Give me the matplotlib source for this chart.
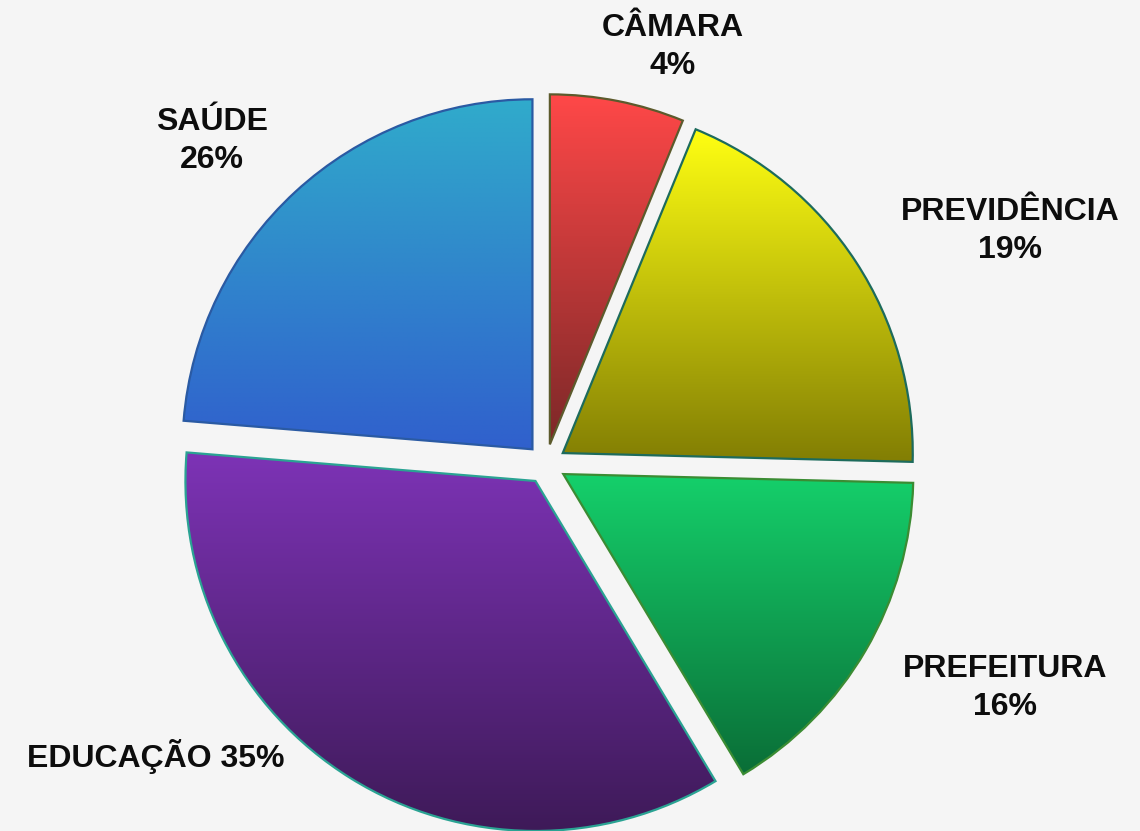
import matplotlib
matplotlib.use("Agg")
import matplotlib.pyplot as plt
import matplotlib.colors as mcolors
import numpy as np

categories = ["CÂMARA", "PREVIDÊNCIA", "PREFEITURA", "EDUCAÇÃO", "SAÚDE"]
values = [6.2, 19.2, 16.0, 34.9, 23.7]
pct_labels = ["4%", "19%", "16%", "35%", "26%"]

top_colors = ["#ff4848", "#ffff12", "#15d06b", "#7d33b6", "#30abcb"]
bottom_colors = ["#7c2828", "#827e04", "#0a6e37", "#3e1a58", "#3060cd"]
edge_colors = ["#5c5a2c", "#1d6b5c", "#3b8c33", "#2aa393", "#2a5aa3"]

# label centres in figure pixels (x, y from top), and whether on one line
label_pos = [(673, 47), (1010, 231), (1005, 688), (156, 756), (212, 141)]
one_line = [False, False, False, True, False]

W, H = 1140, 831
cx, cy, R = 546, 464, 350

fig = plt.figure(figsize=(W / 100, H / 100), dpi=100, facecolor="#f5f5f5")
ax = fig.add_axes([0, 0, 1, 1])
ax.set_facecolor("#f5f5f5")

wedges, _ = ax.pie(values, startangle=90, counterclock=False,
                   explode=[20 / R] * len(values), radius=1,
                   wedgeprops=dict(linewidth=1.6))

for i, w in enumerate(wedges):
    w.set_facecolor("none")
    w.set_edgecolor(edge_colors[i])
    w.set_zorder(3)
    ext = w.get_path().get_extents()
    c0 = np.array(mcolors.to_rgb(top_colors[i]))
    c1 = np.array(mcolors.to_rgb(bottom_colors[i]))
    t = np.linspace(0, 1, 256)[:, None, None]
    grad = c0 * (1 - t) + c1 * t
    im = ax.imshow(grad, extent=(ext.x0, ext.x1, ext.y0, ext.y1),
                   origin="upper", aspect="auto", zorder=2,
                   interpolation="bilinear")
    im.set_clip_path(w)

ax.set_xlim(-cx / R, (W - cx) / R)
ax.set_ylim(-(H - cy) / R, cy / R)
ax.set_aspect("auto")
ax.axis("off")

for i, name in enumerate(categories):
    px, py = label_pos[i]
    if one_line[i]:
        txt = name + " " + pct_labels[i]
    else:
        txt = name + "\n" + pct_labels[i]
    fig.text(px / W, 1 - py / H, txt, ha="center", va="center",
             fontsize=23, fontweight="bold", color="#0d0d0d",
             linespacing=1.38, family=["Liberation Sans", "DejaVu Sans"])

fig.savefig("out.png", dpi=100, facecolor=fig.get_facecolor())
